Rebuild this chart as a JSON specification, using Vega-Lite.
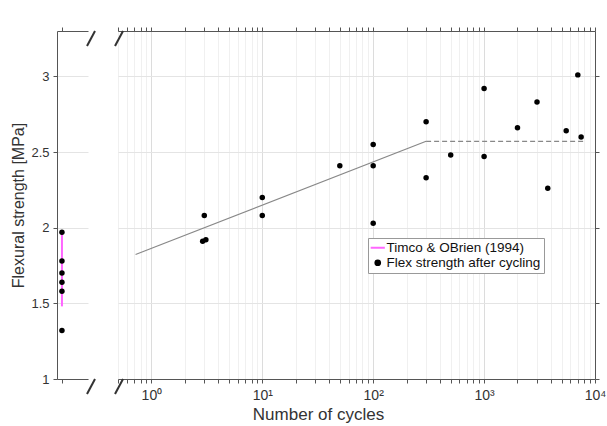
{
  "$schema": "https://vega.github.io/schema/vega-lite/v6.json",
  "padding": {"left": 10, "top": 26, "right": 2, "bottom": 5},
  "background": "white",
  "config": {
    "font": "Liberation Sans",
    "view": {"stroke": null},
    "axis": {
      "domain": true,
      "ticks": true,
      "tickSize": 4,
      "domainColor": "#555555",
      "tickColor": "#555555",
      "labelColor": "#333333",
      "titleColor": "#333333",
      "labelFontSize": 13,
      "titleFontSize": 16,
      "titleFontWeight": "normal",
      "gridColor": "#e4e4e4",
      "domainWidth": 1,
      "tickWidth": 1
    },
    "legend": {
      "orient": "none",
      "legendX": 311,
      "legendY": 207,
      "fillColor": "white",
      "strokeColor": "#999999",
      "padding": 3,
      "labelFontSize": 13.5,
      "labelColor": "#111111",
      "rowPadding": 0,
      "symbolSize": 200,
      "labelLimit": 300,
      "labelOffset": 2
    }
  },
  "datasets": {
    "timco": [
      {"cycles": 0, "low": 1.48, "high": 1.98, "series": "Timco & OBrien (1994)"}
    ],
    "initial": [
      {"cycles": 0, "strength": 1.97, "series": "Flex strength after cycling"},
      {"cycles": 0, "strength": 1.78, "series": "Flex strength after cycling"},
      {"cycles": 0, "strength": 1.70, "series": "Flex strength after cycling"},
      {"cycles": 0, "strength": 1.64, "series": "Flex strength after cycling"},
      {"cycles": 0, "strength": 1.58, "series": "Flex strength after cycling"},
      {"cycles": 0, "strength": 1.32, "series": "Flex strength after cycling"}
    ],
    "cycled": [
      {"cycles": 2.9, "strength": 1.91, "series": "Flex strength after cycling"},
      {"cycles": 3.1, "strength": 1.92, "series": "Flex strength after cycling"},
      {"cycles": 3, "strength": 2.08, "series": "Flex strength after cycling"},
      {"cycles": 10, "strength": 2.20, "series": "Flex strength after cycling"},
      {"cycles": 10, "strength": 2.08, "series": "Flex strength after cycling"},
      {"cycles": 50, "strength": 2.41, "series": "Flex strength after cycling"},
      {"cycles": 100, "strength": 2.55, "series": "Flex strength after cycling"},
      {"cycles": 100, "strength": 2.41, "series": "Flex strength after cycling"},
      {"cycles": 100, "strength": 2.03, "series": "Flex strength after cycling"},
      {"cycles": 300, "strength": 2.70, "series": "Flex strength after cycling"},
      {"cycles": 300, "strength": 2.33, "series": "Flex strength after cycling"},
      {"cycles": 500, "strength": 2.48, "series": "Flex strength after cycling"},
      {"cycles": 1000, "strength": 2.92, "series": "Flex strength after cycling"},
      {"cycles": 1000, "strength": 2.47, "series": "Flex strength after cycling"},
      {"cycles": 2000, "strength": 2.66, "series": "Flex strength after cycling"},
      {"cycles": 3000, "strength": 2.83, "series": "Flex strength after cycling"},
      {"cycles": 3750, "strength": 2.26, "series": "Flex strength after cycling"},
      {"cycles": 5500, "strength": 2.64, "series": "Flex strength after cycling"},
      {"cycles": 7000, "strength": 3.01, "series": "Flex strength after cycling"},
      {"cycles": 7500, "strength": 2.60, "series": "Flex strength after cycling"}
    ],
    "fit": [
      {"cycles": 0.72, "strength": 1.823},
      {"cycles": 300, "strength": 2.571}
    ],
    "plateau": [
      {"cycles": 300, "strength": 2.571},
      {"cycles": 8000, "strength": 2.571}
    ],
    "edges": [
      {"strength": 1},
      {"strength": 3.3}
    ]
  },
  "spacing": 30,
  "bounds": "flush",
  "resolve": {"scale": {"color": "shared", "y": "independent", "x": "independent"}},
  "hconcat": [
    {
      "width": 31,
      "height": 348,
      "resolve": {"axis": {"x": "independent"}},
      "layer": [
        {
          "data": {"name": "timco"},
          "mark": {"type": "rule", "strokeWidth": 2},
          "encoding": {
            "x": {"field": "cycles", "type": "quantitative", "scale": {"domain": [-0.16, 0.84], "nice": false, "zero": false},
                  "axis": {"orient": "bottom", "values": [0], "labels": false, "title": null, "grid": false,
                           "encode": {"ticks": {"update": {"y2": {"value": -4}}}}}},
            "y": {"field": "low", "type": "quantitative", "scale": {"domain": [1, 3.3], "nice": false, "zero": false},
                  "axis": {"orient": "left", "values": [1, 1.5, 2, 2.5, 3], "format": "~g", "title": "Flexural strength [MPa]", "grid": true, "labelPadding": 4, "titlePadding": 4,
                           "encode": {"ticks": {"update": {"x2": {"value": 4}}}}}},
            "y2": {"field": "high"},
            "color": {"field": "series", "type": "nominal",
                      "scale": {"domain": ["Timco & OBrien (1994)", "Flex strength after cycling"], "range": ["#ff66ff", "#000000"]},
                      "legend": {
                        "title": null,
                        "encode": {"symbols": {"update": {
                          "shape": {"signal": "datum.value == 'Timco & OBrien (1994)' ? 'stroke' : 'circle'"},
                          "size": {"signal": "datum.value == 'Timco & OBrien (1994)' ? 200 : 22"},
                          "stroke": {"signal": "datum.value == 'Timco & OBrien (1994)' ? '#ff66ff' : '#000000'"},
                          "fill": {"signal": "datum.value == 'Timco & OBrien (1994)' ? 'transparent' : '#000000'"},
                          "strokeWidth": {"value": 2},
                          "opacity": {"value": 1}
                        }}}
                      }}
          }
        },
        {
          "data": {"name": "initial"},
          "mark": {"type": "point", "filled": true, "size": 30, "opacity": 1},
          "encoding": {
            "x": {"field": "cycles", "type": "quantitative", "scale": {"domain": [-0.16, 0.84], "nice": false, "zero": false},
                  "axis": {"orient": "top", "values": [0], "labels": false, "title": null, "grid": false,
                           "encode": {"ticks": {"update": {"y2": {"value": 4}}}}}},
            "y": {"field": "strength", "type": "quantitative", "scale": {"domain": [1, 3.3], "nice": false, "zero": false}},
            "color": {"field": "series", "type": "nominal"}
          }
        },
        {
          "data": {"name": "edges"},
          "mark": {"type": "rule", "strokeWidth": 2, "color": "#333333", "clip": false},
          "encoding": {
            "x": {"datum": 0.808, "type": "quantitative", "scale": {"domain": [-0.16, 0.84], "nice": false, "zero": false}, "axis": null},
            "x2": {"datum": 1.066},
            "y": {"field": "strength", "type": "quantitative", "scale": {"domain": [1, 3.3], "nice": false, "zero": false}},
            "yOffset": {"value": 15},
            "y2": {"field": "strength"},
            "y2Offset": {"value": -15}
          }
        }
      ]
    },
    {
      "width": 477,
      "height": 348,
      "resolve": {"axis": {"x": "independent"}},
      "layer": [
        {
          "data": {"name": "cycled"},
          "mark": {"type": "point", "filled": true, "size": 30, "opacity": 1},
          "encoding": {
            "x": {"field": "cycles", "type": "quantitative", "scale": {"type": "log", "domain": [0.5, 10000], "nice": false},
                  "axis": {"orient": "bottom", "title": "Number of cycles", "titleX": 200, "titlePadding": 4, "titleFontSize": 17,
                           "values": [0.5,0.6,0.7,0.8,0.9,1,2,3,4,5,6,7,8,9,10,20,30,40,50,60,70,80,90,100,200,300,400,500,600,700,800,900,1000,2000,3000,4000,5000,6000,7000,8000,9000,10000],
                           "labelExpr": "datum.value == 1 ? '10⁰' : datum.value == 10 ? '10¹' : datum.value == 100 ? '10²' : datum.value == 1000 ? '10³' : datum.value == 10000 ? '10⁴' : ''",
                           "labelOverlap": false, "labelFlush": false, "labelPadding": 5, "labelFontSize": 14,
                           "grid": true,
                           "gridColor": {"condition": {"test": "abs(log(datum.value)/LN10 - round(log(datum.value)/LN10)) < 0.001", "value": "#dcdcdc"}, "value": "#f0f0f0"},
                           "encode": {"ticks": {"update": {"y2": {"signal": "abs(log(datum.value)/LN10 - round(log(datum.value)/LN10)) < 0.001 ? -5 : -3"}}}}}},
            "y": {"field": "strength", "type": "quantitative", "scale": {"domain": [1, 3.3], "nice": false, "zero": false},
                  "axis": {"orient": "right", "values": [1, 1.5, 2, 2.5, 3], "labels": false, "title": null, "grid": true,
                           "encode": {"ticks": {"update": {"x2": {"value": -4}}}}}},
            "color": {"field": "series", "type": "nominal"}
          }
        },
        {
          "data": {"name": "fit"},
          "mark": {"type": "line", "color": "#888888", "strokeWidth": 1.2},
          "encoding": {
            "x": {"field": "cycles", "type": "quantitative", "scale": {"type": "log", "domain": [0.5, 10000], "nice": false},
                  "axis": {"orient": "top", "title": null, "labels": false, "grid": false,
                           "values": [0.5,0.6,0.7,0.8,0.9,1,2,3,4,5,6,7,8,9,10,20,30,40,50,60,70,80,90,100,200,300,400,500,600,700,800,900,1000,2000,3000,4000,5000,6000,7000,8000,9000,10000],
                           "encode": {"ticks": {"update": {"y2": {"signal": "abs(log(datum.value)/LN10 - round(log(datum.value)/LN10)) < 0.001 ? 5 : 3"}}}}}},
            "y": {"field": "strength", "type": "quantitative", "scale": {"domain": [1, 3.3], "nice": false, "zero": false}}
          }
        },
        {
          "data": {"name": "plateau"},
          "mark": {"type": "line", "color": "#888888", "strokeWidth": 1.2, "strokeDash": [5, 3]},
          "encoding": {
            "x": {"field": "cycles", "type": "quantitative", "scale": {"type": "log", "domain": [0.5, 10000], "nice": false}, "axis": null},
            "y": {"field": "strength", "type": "quantitative", "scale": {"domain": [1, 3.3], "nice": false, "zero": false}}
          }
        },
        {
          "data": {"name": "edges"},
          "mark": {"type": "rule", "strokeWidth": 2, "color": "#333333", "clip": false},
          "encoding": {
            "x": {"datum": 0.47, "type": "quantitative", "scale": {"type": "log", "domain": [0.5, 10000], "nice": false}, "axis": null},
            "x2": {"datum": 0.555},
            "y": {"field": "strength", "type": "quantitative", "scale": {"domain": [1, 3.3], "nice": false, "zero": false}},
            "yOffset": {"value": 15},
            "y2": {"field": "strength"},
            "y2Offset": {"value": -15}
          }
        }
      ]
    }
  ]
}
